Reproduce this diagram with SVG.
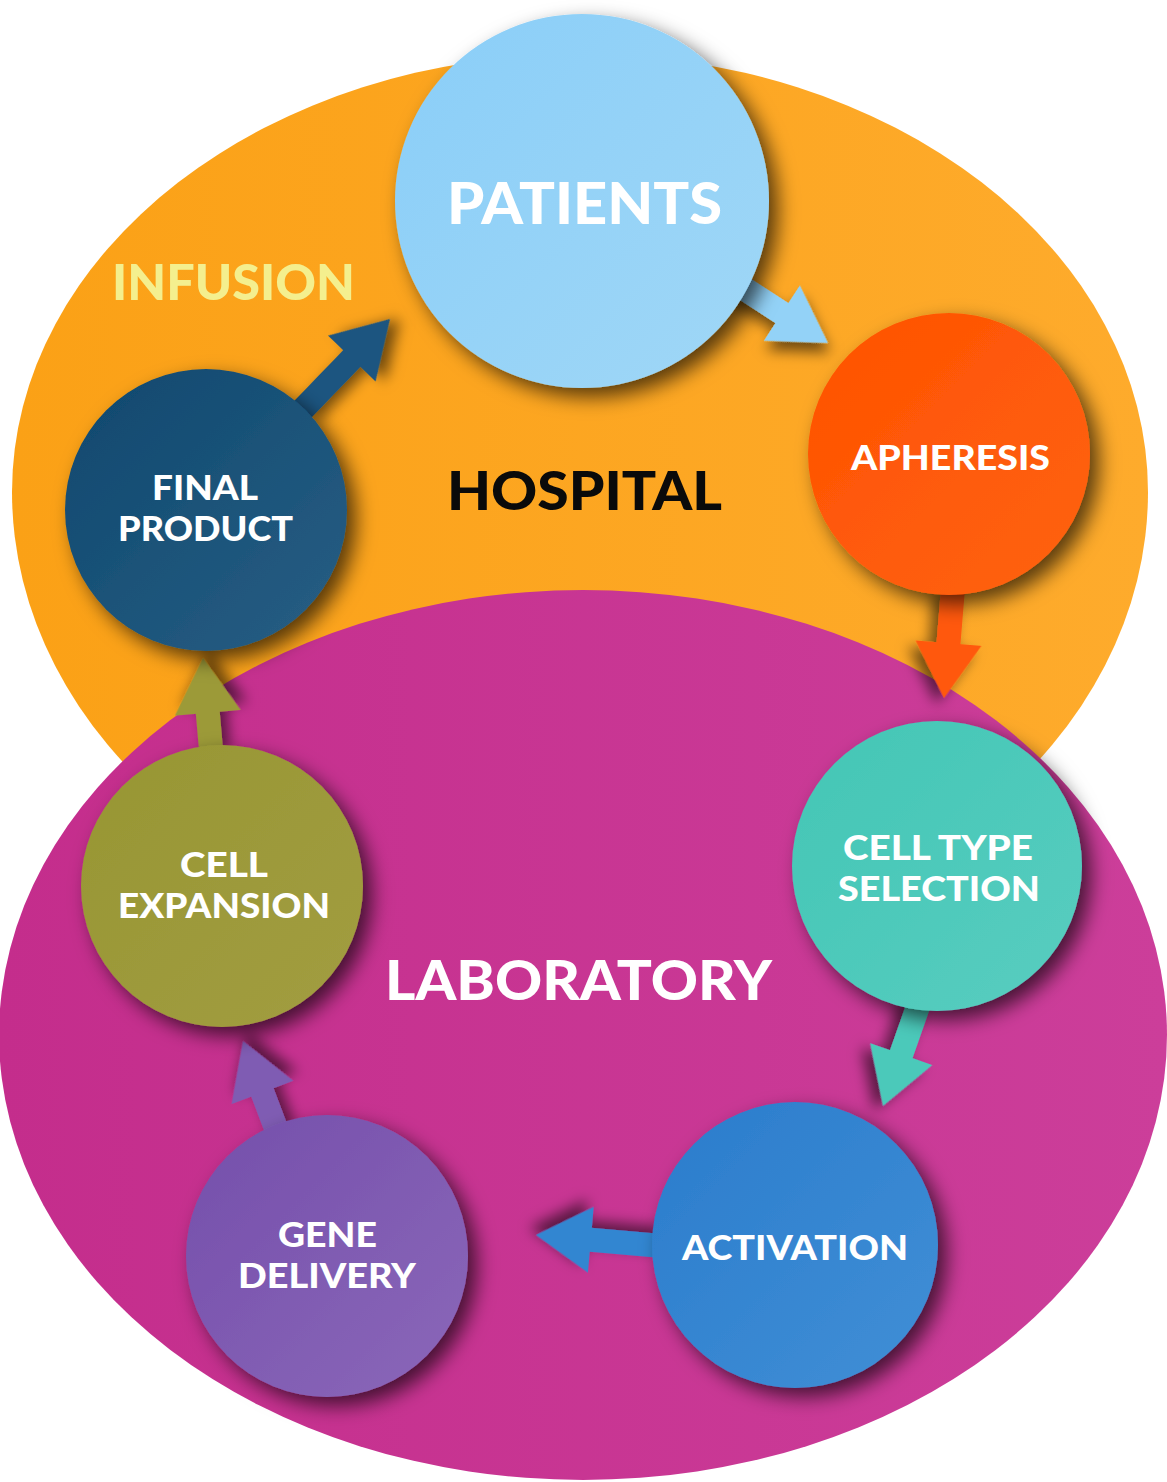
<svg xmlns="http://www.w3.org/2000/svg" width="1167" height="1482" viewBox="0 0 1167 1482">
<defs>
<filter id="csh" x="-30%" y="-30%" width="160%" height="160%">
<feDropShadow dx="9" dy="9" stdDeviation="10" flood-color="#000" flood-opacity="0.65"/>
</filter>
<filter id="ash" x="-40%" y="-40%" width="180%" height="180%">
<feDropShadow dx="7" dy="7" stdDeviation="7" flood-color="#000" flood-opacity="0.55"/>
</filter>
<linearGradient id="gOr" x1="0" y1="0" x2="1" y2="0"><stop offset="0" stop-color="#FBA116"/><stop offset="1" stop-color="#FEAB2C"/></linearGradient>
<linearGradient id="gMg" x1="0" y1="0" x2="1" y2="0"><stop offset="0" stop-color="#C42D8C"/><stop offset="1" stop-color="#CC3E9A"/></linearGradient>
<linearGradient id="gPa" x1="0" y1="0" x2="1" y2="1"><stop offset="0" stop-color="#8ACEF8"/><stop offset="1" stop-color="#A0D7F6"/></linearGradient>
<linearGradient id="gAp" x1="0" y1="0" x2="1" y2="1"><stop offset="0" stop-color="#FF5200"/><stop offset="1" stop-color="#FE6212"/></linearGradient>
<linearGradient id="gCt" x1="0" y1="0" x2="1" y2="1"><stop offset="0" stop-color="#43C6B5"/><stop offset="1" stop-color="#58CDC0"/></linearGradient>
<linearGradient id="gAc" x1="0" y1="0" x2="1" y2="1"><stop offset="0" stop-color="#2A7CCC"/><stop offset="1" stop-color="#418FD6"/></linearGradient>
<linearGradient id="gGd" x1="0" y1="0" x2="1" y2="1"><stop offset="0" stop-color="#744EAB"/><stop offset="1" stop-color="#8B68B9"/></linearGradient>
<linearGradient id="gCe" x1="0" y1="0" x2="1" y2="1"><stop offset="0" stop-color="#979633"/><stop offset="1" stop-color="#A29D41"/></linearGradient>
<linearGradient id="gFp" x1="0" y1="0" x2="1" y2="1"><stop offset="0" stop-color="#0D486E"/><stop offset="1" stop-color="#295E84"/></linearGradient>
</defs>
<style>
.lbl{font-family:Lato,"Open Sans","Liberation Sans",sans-serif;font-weight:900;}
.nd{fill:#fff;font-size:35px;}
.node circle{filter:url(#csh);}
.conn path{filter:url(#ash);}
</style>
<rect width="1167" height="1482" fill="#fff"/>
<g id="regions">
<path id="hospital-region" d="M12,492 A568,438 0 0 1 1148,492 A568,455 0 0 1 12,492 Z" fill="url(#gOr)"/>
<text class="lbl" x="112" y="300" font-size="50" fill="#F4EF8E" textLength="243" lengthAdjust="spacingAndGlyphs">INFUSION</text>
<text class="lbl" x="447" y="510" font-size="53" fill="#0a0a0a" textLength="275" lengthAdjust="spacingAndGlyphs">HOSPITAL</text>
<ellipse id="laboratory-region" cx="583" cy="1035" rx="584" ry="445" fill="url(#gMg)"/>
<text class="lbl" x="385" y="1000" font-size="56" fill="#fff" textLength="387" lengthAdjust="spacingAndGlyphs">LABORATORY</text>
</g>
<g id="connectors" class="conn">
<path d="M0,0 L-55,-33 L-55,-12 L-115,-12 L-115,12 L-55,12 L-55,33 Z" fill="#93D2F7" transform="translate(828,343) rotate(33)"/>
<path d="M0,0 L-55,-33 L-55,-12 L-110,-12 L-110,12 L-55,12 L-55,33 Z" fill="#FF580A" transform="translate(944,698) rotate(94.7)"/>
<path d="M0,0 L-55,-33 L-55,-12 L-110,-12 L-110,12 L-55,12 L-55,33 Z" fill="#4CC9BA" transform="translate(883,1106) rotate(109.4)"/>
<path d="M0,0 L-55,-33 L-55,-12 L-130,-12 L-130,12 L-55,12 L-55,33 Z" fill="#3386D1" transform="translate(536,1235) rotate(185)"/>
<path d="M0,0 L-55,-33 L-55,-12 L-105,-12 L-105,12 L-55,12 L-55,33 Z" fill="#7F5CB3" transform="translate(243,1041) rotate(249.3)"/>
<path d="M0,0 L-55,-33 L-55,-12 L-100,-12 L-100,12 L-55,12 L-55,33 Z" fill="#9C9A38" transform="translate(203,658) rotate(265)"/>
<path d="M0,0 L-55,-33 L-55,-12 L-130,-12 L-130,12 L-55,12 L-55,33 Z" fill="#1A5580" transform="translate(390,319) rotate(-46)"/>
</g>
<g id="patients" class="node">
<circle cx="582" cy="201" r="187" fill="url(#gPa)"/>
<text class="lbl" x="447" y="224" font-size="58" fill="#fff" textLength="275" lengthAdjust="spacingAndGlyphs">PATIENTS</text>
</g>
<g id="apheresis" class="node">
<circle cx="949" cy="454" r="141" fill="url(#gAp)"/>
<text class="lbl nd" x="851" y="470" textLength="199" lengthAdjust="spacingAndGlyphs">APHERESIS</text>
</g>
<g id="cell-type-selection" class="node">
<circle cx="937" cy="866" r="145" fill="url(#gCt)"/>
<text class="lbl nd" x="843" y="860" textLength="190" lengthAdjust="spacingAndGlyphs">CELL TYPE</text>
<text class="lbl nd" x="838" y="901" textLength="202" lengthAdjust="spacingAndGlyphs">SELECTION</text>
</g>
<g id="activation" class="node">
<circle cx="795" cy="1245" r="143" fill="url(#gAc)"/>
<text class="lbl nd" x="682" y="1260" textLength="226" lengthAdjust="spacingAndGlyphs">ACTIVATION</text>
</g>
<g id="gene-delivery" class="node">
<circle cx="327" cy="1256" r="141" fill="url(#gGd)"/>
<text class="lbl nd" x="278" y="1247" textLength="99" lengthAdjust="spacingAndGlyphs">GENE</text>
<text class="lbl nd" x="238" y="1288" textLength="178" lengthAdjust="spacingAndGlyphs">DELIVERY</text>
</g>
<g id="cell-expansion" class="node">
<circle cx="222" cy="886" r="141" fill="url(#gCe)"/>
<text class="lbl nd" x="180" y="877" textLength="88" lengthAdjust="spacingAndGlyphs">CELL</text>
<text class="lbl nd" x="118" y="918" textLength="212" lengthAdjust="spacingAndGlyphs">EXPANSION</text>
</g>
<g id="final-product" class="node">
<circle cx="206" cy="510" r="141" fill="url(#gFp)"/>
<text class="lbl nd" x="152" y="500" textLength="106" lengthAdjust="spacingAndGlyphs">FINAL</text>
<text class="lbl nd" x="118" y="541" textLength="175" lengthAdjust="spacingAndGlyphs">PRODUCT</text>
</g>
</svg>
